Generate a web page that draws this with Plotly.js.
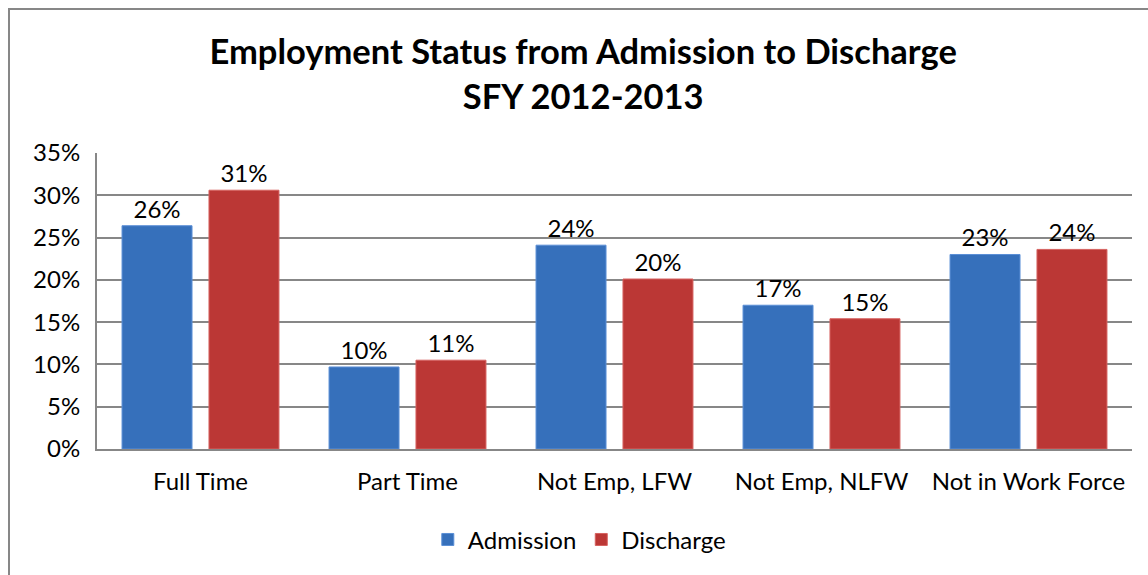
<!DOCTYPE html>
<html>
<head>
<meta charset="utf-8">
<script src="https://cdn.plot.ly/plotly-3.0.1.min.js"></script>
<style>
html,body{margin:0;padding:0;background:#fff;overflow:hidden;}
#wrap{position:relative;width:1148px;height:575px;}
#frame{position:absolute;left:8px;top:8px;width:1200px;height:700px;border:2px solid #878787;box-sizing:border-box;pointer-events:none;z-index:5;}
#chart{position:absolute;left:0;top:0;width:1148px;height:575px;}
</style>
</head>
<body>
<div id="wrap">
<div id="chart"></div>
<div id="frame"></div>
</div>
<script>
const categories = ["Full Time", "Part Time", "Not Emp, LFW", "Not Emp, NLFW", "Not in Work Force"];
const admission = [0.264, 0.097, 0.241, 0.170, 0.230];
const discharge = [0.306, 0.105, 0.201, 0.154, 0.236];
const yTickVals = [0, 0.05, 0.10, 0.15, 0.20, 0.25, 0.30, 0.35];

const FONT = "Lato, 'Open Sans', sans-serif";

const traces = [
  {
    type: "bar", name: "Admission", x: categories, y: admission,
    marker: {color: "#3670bb", line: {color: "#5b8fd6", width: 1}},
    texttemplate: "%{y:.0%}", textposition: "outside", cliponaxis: false,
    textfont: {family: FONT, size: 24, color: "#000"},
    hoverinfo: "skip"
  },
  {
    type: "bar", name: "Discharge", x: categories, y: discharge,
    marker: {color: "#bb3735", line: {color: "#d66260", width: 1}},
    texttemplate: "%{y:.0%}", textposition: "outside", cliponaxis: false,
    textfont: {family: FONT, size: 24, color: "#000"},
    hoverinfo: "skip"
  }
];

const layout = {
  width: 1148, height: 575,
  margin: {l: 97, r: 16, t: 153, b: 126},
  paper_bgcolor: "#ffffff", plot_bgcolor: "#ffffff",
  font: {family: FONT, size: 24, color: "#000"},
  title: {
    text: "<b>Employment Status from Admission to Discharge<br>SFY 2012-2013</b>",
    font: {family: FONT, size: 34.5, color: "#000"},
    x: 0.508, xanchor: "center", xref: "container",
    y: 0.888, yanchor: "middle", yref: "container"
  },
  barmode: "group", bargap: 0.16, bargroupgap: 0.195,
  xaxis: {
    type: "category", showgrid: false, showline: true, linecolor: "#878787", linewidth: 2,
    ticks: "", tickfont: {family: FONT, size: 24, color: "#000"}, ticklabelstandoff: 10
  },
  yaxis: {
    range: [0, 0.35], tickvals: yTickVals, tickformat: ".0%",
    showgrid: true, gridcolor: "#878787", gridwidth: 2,
    showline: true, linecolor: "#878787", linewidth: 2, zeroline: false,
    ticks: "", tickfont: {family: FONT, size: 24, color: "#000"}, ticklabelstandoff: 10
  },
  legend: {
    orientation: "h", x: 0.466, xanchor: "center", y: -0.307, yanchor: "middle",
    font: {family: FONT, size: 24, color: "#000"}, itemwidth: 30, tracegroupgap: 0
  },
  showlegend: true
};

Plotly.newPlot("chart", traces, layout, {displayModeBar: false, staticPlot: true});
</script>
</body>
</html>
